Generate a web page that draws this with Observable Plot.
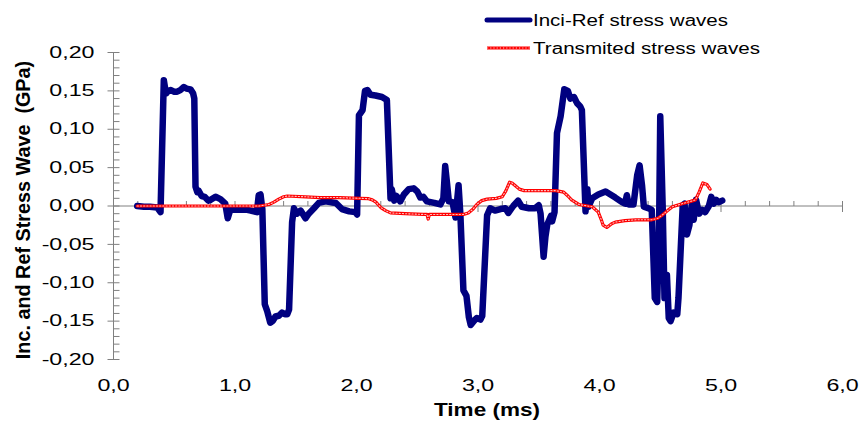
<!DOCTYPE html>
<html><head><meta charset="utf-8">
<script src="https://cdn.jsdelivr.net/npm/d3@7"></script>
<script src="https://cdn.jsdelivr.net/npm/@observablehq/plot@0.6"></script>
<style>
html,body{margin:0;padding:0;background:#fff;}
#chart{width:861px;height:421px;position:relative;}
</style></head><body><div id="chart"></div>
<script>
// ---- data ----
const incTime = [0.195,0.25,0.30,0.36,0.387,0.414,0.428,0.436,0.45,0.47,0.50,0.524,0.55,0.579,0.60,0.634,0.655,0.665,0.675,0.69,0.70,0.725,0.75,0.78,0.80,0.84,0.88,0.92,0.94,0.963,1.02,1.10,1.13,1.18,1.195,1.21,1.225,1.245,1.265,1.29,1.31,1.333,1.36,1.387,1.41,1.43,1.445,1.47,1.485,1.51,1.54,1.58,1.607,1.65,1.69,1.745,1.83,1.88,1.94,1.99,2.005,2.02,2.05,2.07,2.09,2.115,2.156,2.21,2.25,2.28,2.29,2.31,2.33,2.36,2.39,2.43,2.47,2.50,2.525,2.55,2.58,2.64,2.69,2.715,2.73,2.745,2.76,2.79,2.815,2.84,2.855,2.88,2.905,2.925,2.94,2.965,2.99,3.02,3.035,3.075,3.10,3.14,3.185,3.226,3.25,3.29,3.33,3.36,3.42,3.47,3.50,3.515,3.54,3.555,3.57,3.60,3.61,3.63,3.65,3.68,3.71,3.74,3.76,3.79,3.815,3.84,3.855,3.885,3.90,3.91,3.94,3.99,4.05,4.09,4.13,4.185,4.21,4.225,4.24,4.28,4.31,4.33,4.35,4.365,4.405,4.43,4.455,4.475,4.49,4.50,4.52,4.535,4.555,4.57,4.585,4.61,4.64,4.65,4.685,4.70,4.72,4.74,4.76,4.775,4.795,4.82,4.845,4.87,4.90,4.92,4.94,4.96,4.98,5.01];
const incStress = [0.000,-0.001,-0.001,-0.002,-0.008,0.164,0.150,0.147,0.150,0.151,0.149,0.149,0.151,0.155,0.153,0.152,0.147,0.140,0.025,0.018,0.020,0.013,0.012,0.007,0.008,0.012,0.009,0.003,-0.016,-0.004,-0.005,-0.005,-0.006,-0.008,0.014,0.015,-0.004,-0.128,-0.137,-0.152,-0.150,-0.144,-0.143,-0.139,-0.141,-0.141,-0.135,-0.021,-0.003,-0.010,-0.006,-0.016,-0.010,-0.003,0.004,0.006,0.004,-0.004,-0.007,-0.008,-0.011,0.118,0.125,0.150,0.151,0.145,0.144,0.142,0.138,0.010,0.022,0.007,0.013,0.006,0.015,0.022,0.023,0.019,0.011,0.012,0.006,0.004,0.002,0.010,0.052,0.030,0.006,0.005,-0.015,0.027,-0.011,-0.110,-0.117,-0.145,-0.155,-0.150,-0.146,-0.148,-0.143,-0.012,-0.003,-0.006,-0.004,-0.003,-0.009,0.000,0.007,-0.001,-0.003,-0.003,0.001,-0.010,-0.066,-0.040,-0.024,-0.013,-0.020,-0.008,0.095,0.117,0.152,0.150,0.140,0.142,0.134,0.130,0.125,-0.007,0.022,-0.001,0.010,0.015,0.019,0.015,0.011,0.005,0.003,0.014,0.002,0.002,0.040,0.053,0.027,-0.001,-0.003,-0.005,-0.120,-0.125,-0.034,0.117,0.000,-0.120,-0.090,-0.146,-0.150,-0.139,-0.141,-0.120,0.001,0.003,-0.037,-0.025,0.002,-0.018,0.008,-0.010,-0.005,-0.008,0.000,0.012,0.003,0.008,0.005,0.007];
const trTime = [0.195,0.5,0.8,1.0,1.2,1.28,1.32,1.36,1.40,1.43,1.58,1.70,1.855,2.03,2.10,2.13,2.16,2.20,2.24,2.28,2.40,2.55,2.58,2.59,2.60,2.69,2.88,2.92,2.96,2.99,3.03,3.075,3.15,3.20,3.23,3.26,3.28,3.31,3.34,3.38,3.50,3.64,3.705,3.74,3.77,3.83,3.94,3.99,4.015,4.03,4.06,4.10,4.13,4.21,4.30,4.43,4.48,4.515,4.56,4.60,4.68,4.75,4.79,4.82,4.85,4.885,4.91];
const trStress = [0.000,0.000,0.000,0.000,0.000,0.002,0.005,0.009,0.012,0.013,0.012,0.011,0.011,0.010,0.0095,0.008,0.005,-0.002,-0.006,-0.009,-0.010,-0.011,-0.011,-0.017,-0.011,-0.011,-0.011,-0.009,-0.004,0.002,0.007,0.009,0.010,0.012,0.020,0.031,0.030,0.026,0.022,0.020,0.020,0.020,0.018,0.013,0.008,0.002,-0.001,-0.008,-0.018,-0.025,-0.028,-0.023,-0.021,-0.019,-0.018,-0.018,-0.016,-0.012,-0.006,-0.001,0.003,0.006,0.008,0.018,0.030,0.028,0.022];
const seriesNames = ["Inci-Ref stress waves", "Transmited stress waves"];
const xTicks = [0, 1, 2, 3, 4, 5, 6];
const xTickLabels = ["0,0", "1,0", "2,0", "3,0", "4,0", "5,0", "6,0"];
const yTicks = [-0.20, -0.15, -0.10, -0.05, 0, 0.05, 0.10, 0.15, 0.20];
const yTickLabels = ["-0,20", "-0,15", "-0,10", "-0,05", "0,00", "0,05", "0,10", "0,15", "0,20"];
const xTitle = "Time (ms)";
const yTitle = "Inc. and Ref Stress Wave  (GPa)";

const inc = incTime.map((t, i) => ({t, v: incStress[i]}));
const tr = trTime.map((t, i) => ({t, v: trStress[i]}));
const xMinor = d3.range(1, 30).filter(i => i % 5 !== 0).map(i => i / 5);
const yMinor = d3.range(-20, 21).filter(i => i % 5 !== 0).map(i => i / 100);

const NAVY = "#000080", RED = "#ff0000", AX = "#808080";
const FONT = "'Liberation Sans', Arial, sans-serif";

const vCross = {draw(c) { c.moveTo(0, -5); c.lineTo(0, 6); }};
const vUp    = {draw(c) { c.moveTo(0, -5); c.lineTo(0, 0); }};
const hCross = {draw(c) { c.moveTo(-6, 0); c.lineTo(6, 0); }};
const hRight = {draw(c) { c.moveTo(0, 0); c.lineTo(6, 0); }};

const svg = Plot.plot({
  width: 861, height: 421,
  marginLeft: 113, marginRight: 19, marginTop: 52, marginBottom: 62,
  style: {fontFamily: FONT, fontSize: "16px", color: "#000", background: "#fff", overflow: "visible"},
  x: {domain: [0, 6], label: null},
  y: {domain: [-0.2, 0.2], label: null},
  marks: [
    Plot.ruleX([0], {stroke: AX, strokeWidth: 1}),
    Plot.ruleY([0], {stroke: AX, strokeWidth: 1}),
    Plot.dot(yTicks, {x: () => 0, y: d => d, symbol: hCross, stroke: AX, fill: "none", strokeWidth: 1}),
    Plot.dot(yMinor, {x: () => 0, y: d => d, symbol: hRight, stroke: AX, fill: "none", strokeWidth: 1}),
    Plot.dot(xTicks, {x: d => d, y: () => 0, symbol: vCross, stroke: AX, fill: "none", strokeWidth: 1}),
    Plot.dot(xMinor, {x: d => d, y: () => 0, symbol: vUp, stroke: AX, fill: "none", strokeWidth: 1}),
    Plot.line(inc, {x: "t", y: "v", stroke: NAVY, strokeWidth: 6.5}),
    Plot.line(tr, {x: "t", y: "v", stroke: RED, strokeWidth: 3.2}),
    Plot.line(tr, {x: "t", y: "v", stroke: "#fff", strokeWidth: 1.1, strokeOpacity: 0.75, strokeDasharray: "1.2,2"}),
    Plot.axisY(yTicks, {tickSize: 0, tickPadding: 19, label: null, tickFormat: d => yTickLabels[yTicks.indexOf(d)], fontSize: 16}),
    Plot.axisX(xTicks, {tickSize: 0, tickPadding: 20, label: null, tickFormat: d => xTickLabels[xTicks.indexOf(d)], fontSize: 16}),
    Plot.text([xTitle], {frameAnchor: "bottom", dx: 9, dy: 50, lineAnchor: "middle", textAnchor: "middle", fontWeight: "bold", fontSize: 19}),
    Plot.text([yTitle], {frameAnchor: "left", rotate: -90, dx: -90, dy: 4, lineAnchor: "middle", textAnchor: "middle", fontWeight: "bold", fontSize: 19.8})
  ]
});
document.getElementById("chart").appendChild(svg);

// legend
const sel = d3.select(svg);
const lg = sel.append("g").attr("font-family", FONT).attr("font-size", 16).attr("text-anchor", "start");
lg.append("line").attr("x1", 487).attr("x2", 530).attr("y1", 20).attr("y2", 20).attr("stroke", NAVY).attr("stroke-width", 5).attr("stroke-linecap", "round");
lg.append("line").attr("x1", 487).attr("x2", 530).attr("y1", 48).attr("y2", 48).attr("stroke", RED).attr("stroke-width", 3.2);
lg.append("line").attr("x1", 487).attr("x2", 530).attr("y1", 48).attr("y2", 48).attr("stroke", "#fff").attr("stroke-width", 1.1).attr("stroke-opacity", 0.75).attr("stroke-dasharray", "1.2,2");
lg.append("text").attr("x", 533).attr("y", 26).text(seriesNames[0]).attr("textLength", 195).attr("lengthAdjust", "spacingAndGlyphs");
lg.append("text").attr("x", 533).attr("y", 54).text(seriesNames[1]).attr("textLength", 227).attr("lengthAdjust", "spacingAndGlyphs");

// widen tick labels and the x title to match the reference's horizontally stretched lettering
sel.selectAll("text").each(function() {
  const t = this.textContent;
  if (this.hasAttribute("textLength") || t === yTitle) return;
  if (t === xTitle) { this.setAttribute("textLength", 106); this.setAttribute("lengthAdjust", "spacingAndGlyphs"); return; }
  const w = this.getComputedTextLength();
  if (w > 0) { this.setAttribute("textLength", w * 1.45); this.setAttribute("lengthAdjust", "spacingAndGlyphs"); }
});
</script></body></html>
